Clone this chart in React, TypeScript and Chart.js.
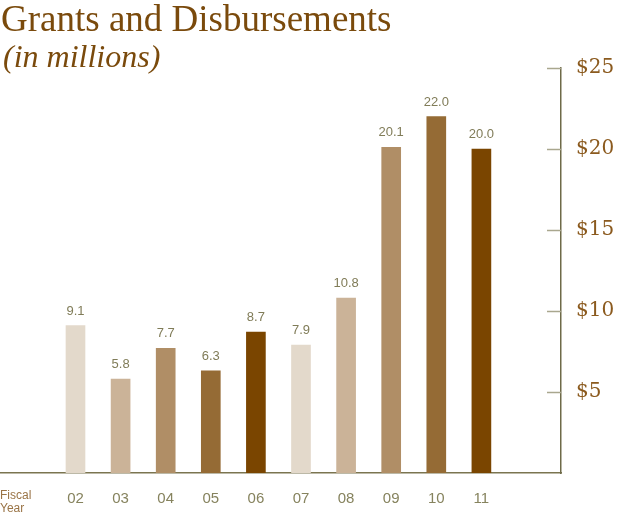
import React, { useEffect, useRef } from "react";
import { Chart, registerables } from "chart.js";

Chart.register(...registerables);

const years = ["02", "03", "04", "05", "06", "07", "08", "09", "10", "11"];
const grants = [9.1, 5.8, 7.7, 6.3, 8.7, 7.9, 10.8, 20.1, 22.0, 20.0];
const barColors = [
  "#e3d9cb", "#cbb398", "#b08e66", "#956b35", "#7a4500",
  "#e3d9cb", "#cbb398", "#b08e66", "#956b35", "#7a4500",
];
const yTicks = [5, 10, 15, 20, 25];

const valueLabels = {
  id: "valueLabels",
  afterDatasetsDraw(chart: any) {
    const ctx = chart.ctx;
    const meta = chart.getDatasetMeta(0);
    ctx.save();
    ctx.font = "13px 'Liberation Sans'";
    ctx.fillStyle = "#807c58";
    ctx.textAlign = "center";
    ctx.textBaseline = "alphabetic";
    meta.data.forEach((el: any, i: number) => {
      ctx.fillText(grants[i].toFixed(1), el.x, el.y - 11);
    });
    ctx.restore();
  },
};

const yTickMarks = {
  id: "yTickMarks",
  afterDraw(chart: any) {
    const ctx = chart.ctx;
    const ys = chart.scales.y;
    const right = chart.chartArea.right;
    ctx.save();
    ctx.strokeStyle = "#a9a78e";
    ctx.lineWidth = 1.5;
    yTicks.forEach((v) => {
      const py = Math.round(ys.getPixelForValue(v)) + 0.5;
      ctx.beginPath();
      ctx.moveTo(right - 14, py);
      ctx.lineTo(right, py);
      ctx.stroke();
    });
    ctx.restore();
  },
};

export default function App() {
  const ref = useRef<HTMLCanvasElement | null>(null);

  useEffect(() => {
    if (!ref.current) return;
    const chart = new Chart(ref.current, {
      type: "bar",
      data: {
        datasets: [
          {
            data: years.map((_, i) => ({ x: i, y: grants[i] })) as any,
            backgroundColor: barColors,
            barThickness: 19,
            borderWidth: 0,
          },
        ],
      },
      options: {
        animation: false,
        responsive: false,
        events: [],
        layout: { padding: { top: 68, left: 0, right: 0, bottom: 0 } },
        plugins: {
          legend: { display: false },
          tooltip: { enabled: false },
          title: { display: false },
        },
        scales: {
          x: {
            type: "linear",
            offset: false,
            min: -1.674,
            max: 10.765,
            afterBuildTicks: (scale: any) => {
              scale.ticks = years.map((_, i) => ({ value: i }));
            },
            afterFit: (scale: any) => {
              scale.height = 42;
            },
            ticks: {
              autoSkip: false,
              maxRotation: 0,
              padding: 17,
              color: "#86835e",
              font: { family: "'Liberation Sans'", size: 15 },
              callback: (v: any) => years[v as number] ?? "",
            },
            grid: { display: false, drawTicks: false },
            border: { display: true, color: "#7b7550", width: 1.5 },
          },
          y: {
            position: "right",
            min: 0,
            max: 25,
            afterFit: (scale: any) => {
              scale.width = 59;
            },
            ticks: {
              stepSize: 5,
              padding: 15,
              color: "#8b5a1e",
              font: { family: "'DejaVu Serif'", size: 20 },
              callback: (v: any) => (v === 0 ? "" : "$" + v),
            },
            grid: { display: false, drawTicks: false },
            border: { display: true, color: "#6e6a48", width: 1.5 },
          },
        },
      },
      plugins: [valueLabels, yTickMarks],
    });
    return () => chart.destroy();
  }, []);

  return (
    <div style={{ position: "absolute", left: 0, top: 0, width: 620, height: 515, background: "#fff", overflow: "hidden" }}>
      <canvas ref={ref} width={620} height={515} style={{ position: "absolute", left: 0, top: 0, display: "block" }} />
      <div
        style={{
          position: "absolute",
          left: 1,
          top: 0,
          fontFamily: "'Liberation Serif', serif",
          fontSize: 37,
          lineHeight: "37px",
          color: "#7a4a0c",
          whiteSpace: "nowrap",
        }}
      >
        Grants and Disbursements
      </div>
      <div
        style={{
          position: "absolute",
          left: 3,
          top: 40,
          fontFamily: "'Liberation Serif', serif",
          fontStyle: "italic",
          fontSize: 32,
          lineHeight: "32px",
          color: "#7a4a0c",
          whiteSpace: "nowrap",
        }}
      >
        (in millions)
      </div>
      <div
        style={{
          position: "absolute",
          left: 0,
          top: 489,
          fontFamily: "'Liberation Sans', sans-serif",
          fontSize: 12,
          lineHeight: "13px",
          color: "#9a7446",
        }}
      >
        Fiscal
        <br />
        Year
      </div>
    </div>
  );
}
